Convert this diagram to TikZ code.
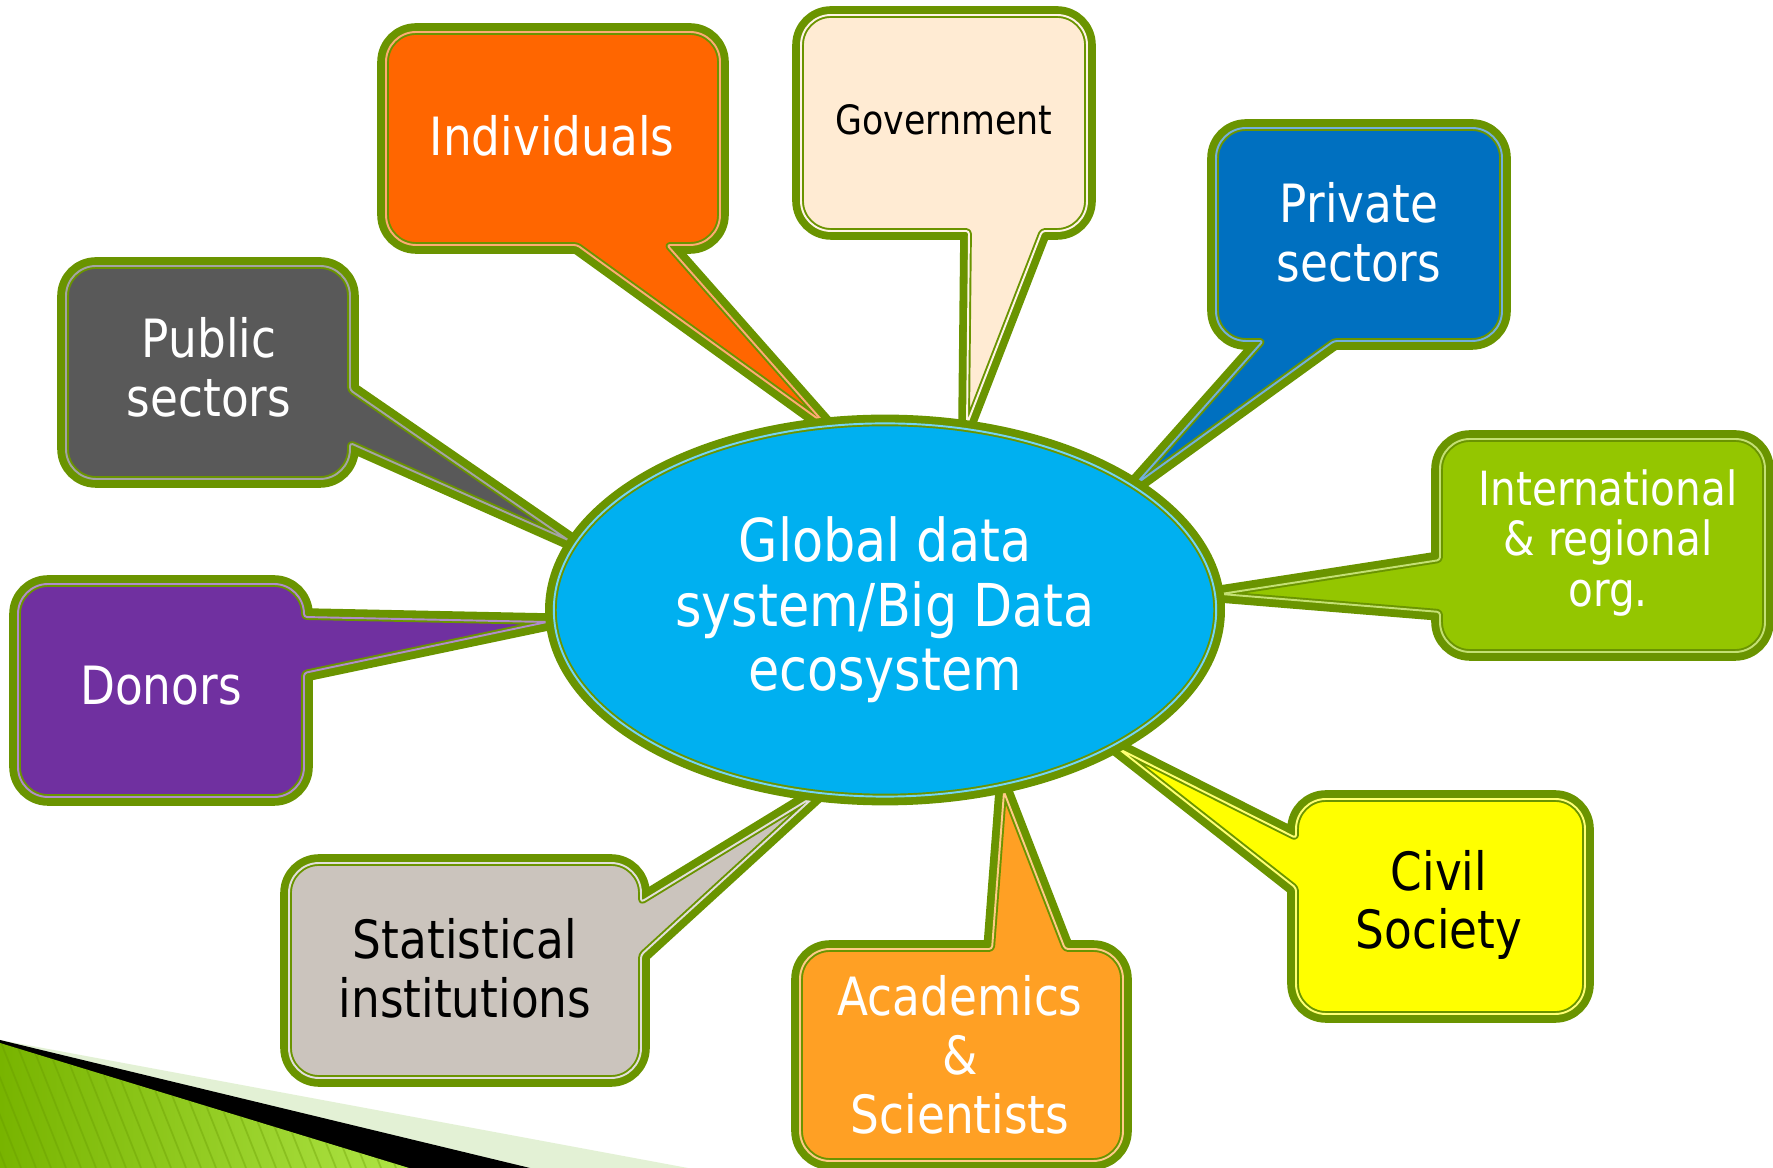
\documentclass[tikz,border=0pt]{standalone}
\usepackage{fontspec}
\setmainfont{DejaVu Sans}[FakeStretch=0.86]
\usepackage{tikz}
\usetikzlibrary{shapes.geometric}
\definecolor{rimgreen}{HTML}{6A9400}
\definecolor{hubblue}{HTML}{00B0F0}
\definecolor{indivfill}{HTML}{FF6600}
\definecolor{govfill}{HTML}{FFEBD3}
\definecolor{privfill}{HTML}{0070C0}
\definecolor{intlfill}{HTML}{94C600}
\definecolor{civilfill}{HTML}{FFFF00}
\definecolor{acadfill}{HTML}{FFA024}
\definecolor{statfill}{HTML}{CBC4BD}
\definecolor{donorfill}{HTML}{7030A0}
\definecolor{publicfill}{HTML}{595959}
\definecolor{paleband}{HTML}{E3F1D5}
\definecolor{leafdark}{HTML}{78B400}
\definecolor{leaflight}{HTML}{AEE445}
\tikzset{
  bubble/.style={preaction={draw=rimgreen, line width=5pt, line join=round},
    fill=#1, draw=rimgreen, line width=0.55pt, double=#1!55!white,
    double distance=0.55pt, line join=round},
  boxcorner/.style={rounded corners=0.3cm},
  tailcorner/.style={rounded corners=0.03cm},
  whitetext/.style={align=center, text=white, font=\fontsize{15}{16.7}\selectfont},
  darktext/.style={whitetext, text=black},
  stripe/.style={draw=leafdark!85!black, line width=0.5pt, opacity=0.35},
}

\begin{document}
\begin{tikzpicture}[x=0.01cm, y=-0.01cm]
  \useasboundingbox (0,0) rectangle (1773,1168);

  % corner decoration
  \fill[paleband] (0,1040) -- (688,1168) -- (0,1168) -- cycle;
  \fill[black] (0,1040) -- (530,1168) -- (0,1168) -- cycle;
  \begin{scope}
    \clip (0,1043) -- (409,1168) -- (0,1168) -- cycle;
    \shade[left color=leafdark, right color=leaflight] (0,1040) rectangle (409,1168);
    \foreach \s in {-60,-45,...,420}
      \draw[stripe] (\s,1040) -- ++(51,128);
  \end{scope}

  % callouts
  \path[bubble=indivfill] (550,32) [boxcorner] -- (720,32) -- (720,245)
    [tailcorner] -- (667,245) [sharp corners] -- (825,424) [tailcorner] -- (577,245)
    [boxcorner] -- (386,245) -- (386,32) -- cycle;
  \path[bubble=govfill] (944,15) [boxcorner] -- (1087,15) -- (1087,231)
    [tailcorner] -- (1042,231) [sharp corners] -- (967,424) [tailcorner] -- (969,231)
    [boxcorner] -- (801,231) -- (801,15) -- cycle;
  \path[bubble=privfill] (1359,128) [boxcorner] -- (1502,128) -- (1502,341)
    [tailcorner] -- (1334,341) [sharp corners] -- (1136,484) [tailcorner] -- (1263,341)
    [boxcorner] -- (1216,341) -- (1216,128) -- cycle;
  \path[bubble=intlfill] (1600,439) [boxcorner] -- (1765,439) -- (1765,652) -- (1440,652)
    [tailcorner] -- (1440,612) [sharp corners] -- (1221,594) [tailcorner] -- (1440,560)
    [boxcorner] -- (1440,439) -- cycle;
  \path[bubble=civilfill] (1440,799) [boxcorner] -- (1585,799) -- (1585,1014) -- (1296,1014)
    [tailcorner] -- (1296,888) [sharp corners] -- (1119,749) [tailcorner] -- (1296,838)
    [boxcorner] -- (1296,799) -- cycle;
  \path[bubble=acadfill] (800,1055) [boxcorner] -- (800,949)
    [tailcorner] -- (992,949) [sharp corners] -- (1004,792) [tailcorner] -- (1065,949)
    [boxcorner] -- (1123,949) -- (1123,1161) -- (800,1161) -- cycle;
  \path[bubble=statfill] (465,863) [boxcorner] -- (641,863)
    [tailcorner] -- (641,902) [sharp corners] -- (816,795) [tailcorner] -- (641,955)
    [boxcorner] -- (641,1078) -- (289,1078) -- (289,863) -- cycle;
  \path[bubble=donorfill] (161,584) [boxcorner] -- (304,584)
    [tailcorner] -- (304,617) [sharp corners] -- (547,622) [tailcorner] -- (304,673)
    [boxcorner] -- (304,797) -- (18,797) -- (18,584) -- cycle;
  \path[bubble=publicfill] (209,266) [boxcorner] -- (350,266)
    [tailcorner] -- (350,390) [sharp corners] -- (568,540) [tailcorner] -- (350,443)
    [boxcorner] -- (350,479) -- (66,479) -- (66,266) -- cycle;

  \node[ellipse, bubble=hubblue, minimum width=6.62cm, minimum height=3.73cm, inner sep=0pt,
    whitetext, font=\fontsize{16.8}{18.3}\selectfont] (hub) at (885,610)
    {Global data\\system/Big Data\\ecosystem};

  \node[whitetext] (individuals) at (552,136) {Individuals};
  \node[darktext, font=\fontsize{11.5}{13}\selectfont] (government) at (944,120) {Government};
  \node[whitetext] (private) at (1359,232) {Private\\sectors};
  \node[whitetext, font=\fontsize{13.4}{14.4}\selectfont] (intl) at (1608,543)
    {International\\\& regional\\org.};
  \node[darktext] (civil) at (1439,905) {Civil\\Society};
  \node[whitetext] (academics) at (960,1055) {Academics\\\&\\Scientists};
  \node[darktext] (statistical) at (465,968) {Statistical\\institutions};
  \node[whitetext] (donors) at (161,686) {Donors};
  \node[whitetext] (public) at (209,367) {Public\\sectors};
\end{tikzpicture}
\end{document}
